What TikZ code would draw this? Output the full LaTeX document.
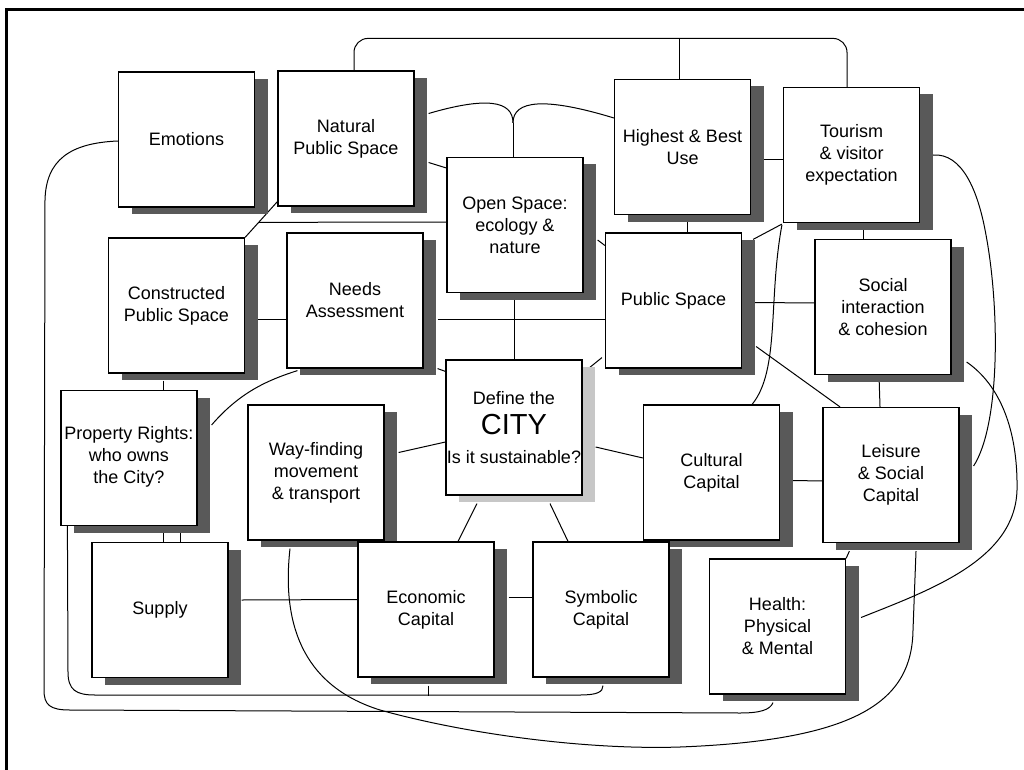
\documentclass[tikz,border=0pt]{standalone}
\usepackage{fontspec}
\setmainfont{Liberation Sans}
\usetikzlibrary{calc,shadows}
\pgfdeclarelayer{bg}
\pgfsetlayers{bg,main}
\begin{document}
\begin{tikzpicture}[x=1pt,y=-1pt,
  boxbase/.style={draw=black, line width=1.2pt, fill=white, minimum width=136pt, minimum height=135pt,
    inner sep=0pt, align=center, font=\fontsize{18}{22}\selectfont},
  box/.style={boxbase, general shadow={fill=black!65, shadow xshift=13pt, shadow yshift=-7pt}},
  citybox/.style={boxbase, general shadow={fill=black!22, shadow xshift=13pt, shadow yshift=-7pt}},
  link/.style={draw=black, line width=1pt},
  frameline/.style={draw=black, line width=2.5pt}]
\useasboundingbox (0,0) rectangle (1024,770);
\draw[frameline] (1024,9.5) -- (6.5,9.5) -- (6.5,770);

\node[box] (emo) at (186.5,139.5) {Emotions};
\node[box] (nat) at (346,138.5) {Natural\\Public Space};
\node[box] (open) at (515,225) {Open Space:\\ecology \&\\nature};
\node[box] (hbu) at (682.5,147) {Highest \& Best\\Use};
\node[box] (tour) at (851.5,155) {Tourism\\\& visitor\\expectation};
\node[box] (cons) at (176.5,305.5) {Constructed\\Public Space};
\node[box] (needs) at (355,300.5) {Needs\\Assessment};
\node[box] (pub) at (673.5,300.5) {Public Space};
\node[box] (soc) at (883,307) {Social\\interaction\\\& cohesion};
\node[box] (prop) at (129,458) {\\[-12pt]Property Rights:\\who owns\\the City?};
\node[box] (way) at (316,472.5) {Way-finding\\movement\\\& transport};
\node[citybox] (city) at (514,427.5) {Define the\\[8pt]{\fontsize{29}{30}\selectfont CITY}\\[7pt]Is it sustainable?};
\node[box] (cult) at (711.5,472.5) {Cultural\\Capital};
\node[box] (leis) at (891,475) {Leisure\\\& Social\\Capital};
\node[box] (sup) at (160,610) {Supply};
\node[box] (econ) at (426,609.5) {Economic\\Capital};
\node[box] (sym) at (601,609.5) {Symbolic\\Capital};
\node[box] (health) at (777.5,626.5) {Health:\\Physical\\\& Mental};

\begin{pgfonlayer}{bg}
% top loop
\draw[link, rounded corners=14pt] ($(nat.north)+(8,0)$) -- ++(0,-32) -| ($(tour.north)+(-4.5,0)$);
\draw[link] ($(hbu.north)+(-3.5,0)$) -- ++(0,-41);
% Y merge into open space
\coordinate (ym) at ($(open.north)+(-2,-34)$);
\draw[link] ($(nat.east)+(14,-25)$) .. controls (485,97) and (513,100) .. (ym);
\draw[link] (ym) .. controls (513,100) and (545,97) .. ($(hbu.west)+(0,-29)$);
\draw[link] (ym) -- ($(open.north)+(-2,0)$);
% short links top
\draw[link] ($(nat.east)+(14,24)$) -- ($(open.west)+(0,-57)$);
\draw[link] ($(open.east)+(14,15)$) -- ($(pub.west)+(0,-55)$);
\coordinate (e1) at ($(nat.south west)+(0,-5)$);
\draw[link] (e1) -- (cons.north east);
\draw[link] ($(e1)!0.58!(cons.north east)$) -- ($(open.west)+(0,-3)$);
\draw[link] ($(hbu.east)+(13,13)$) -- ($(tour.west)+(0,5)$);
\draw[link] ($(hbu.south)+(4.5,0)$) -- ($(pub.north)+(13.5,0)$);
\draw[link] ($(tour.south west)+(-1,1)$) -- ($(pub.north east)+(11,7)$);
\draw[link] ($(tour.south)+(11.5,0)$) -- ($(soc.north)+(-20,0)$);
% curves on right
\draw[link] ($(tour.south west)+(-1,2)$) .. controls (768,300) and (780,370) .. ($(cult.north east)+(-28,0)$);
\draw[link] ($(tour.east)+(13,0)$) .. controls (962,153) and (978,190) .. (986,235)
   .. controls (1000,310) and (1000,425) .. ($(leis.east)+(14,-9)$);
\draw[link] ($(soc.east)+(15,55)$) .. controls (1000,385) and (1018,430) .. (1017,490)
   .. controls (1015,560) and (930,590) .. ($(health.east)+(15,-9)$);
% middle right
\draw[link] ($(pub.east)+(13,2)$) -- ($(soc.west)+(0,-4)$);
\draw[link] ($(pub.east)+(14,46)$) -- ($(leis.north)+(-51,0)$);
\draw[link] ($(soc.south)+(-4,0)$) -- ($(leis.north)+(-11,0)$);
\draw[link] ($(cult.east)+(13,8)$) -- ($(leis.west)+(0,6)$);
\draw[link] ($(leis.south west)+(27,8)$) -- (health.north east);
% long bottom curve from way-finding to leisure
\draw[link] ($(way.south)+(-26,8)$) .. controls (282,620) and (300,685) .. (380,710)
   .. controls (470,735) and (590,750) .. (680,747)
   .. controls (860,740) and (912,700) .. (913,630) -- ($(leis.south)+(25,8)$);
% outer loop health -> emotions
\draw[link] ($(health.south)+(-4.5,8)$) .. controls (770,710) and (760,713) .. (740,713) -- (70,710)
   .. controls (50,710) and (44,705) .. (44,690) -- (45,200)
   .. controls (46,160) and (70,143) .. ($(emo.west)+(0,1.5)$);
% inner loop property -> symbolic
\draw[link] ($(prop.south west)+(7,0)$) -- (68,672) .. controls (68,690) and (76,695) .. (95,695)
   -- (580,695) .. controls (597,695) and (603,692) .. ($(sym.south)+(2,8)$);
\draw[link] ($(econ.south)+(2,8)$) -- ++(0,10);
% centre
\draw[link] ($(way.east)+(14,-20)$) -- ($(city.west)+(0,14.5)$);
\draw[link] ($(city.east)+(13,19.5)$) -- ($(cult.west)+(0,-14.5)$);
\draw[link] ($(city.south)+(-37,8)$) -- ($(econ.north)+(32,0)$);
\draw[link] ($(city.south)+(36,8)$) -- ($(sym.north)+(-33,0)$);
\draw[link] ($(econ.east)+(14,-12)$) -- ($(sym.west)+(0,-12)$);
\draw[link] ($(sup.east)+(13,-10)$) -- ($(econ.west)+(0,-10)$);
\draw[link] ($(cons.south)+(-13.5,7)$) -- ($(prop.north)+(34,0)$);
\draw[link] ($(prop.south)+(34,7)$) -- ($(sup.north)+(3,0)$);
\draw[link] ($(prop.south)+(51,7)$) -- ($(sup.north)+(20,0)$);
\draw[link] ($(cons.east)+(13,13.5)$) -- ($(needs.west)+(0,18.5)$);
\draw[link] ($(needs.south west)+(11,2)$) .. controls (268,380) and (240,392) .. ($(prop.east)+(14,-33)$);
\draw[link] ($(needs.east)+(14,18.5)$) -- ($(pub.west)+(0,18.5)$);
\draw[link] ($(needs.south east)+(14,0)$) -- ($(city.north west)+(0,12)$);
\draw[link] ($(pub.south west)+(-3,-11)$) -- ($(city.north east)+(6,9)$);
\draw[link] ($(open.south)+(-1,0)$) -- (city.north);
\end{pgfonlayer}
\end{tikzpicture}
\end{document}
